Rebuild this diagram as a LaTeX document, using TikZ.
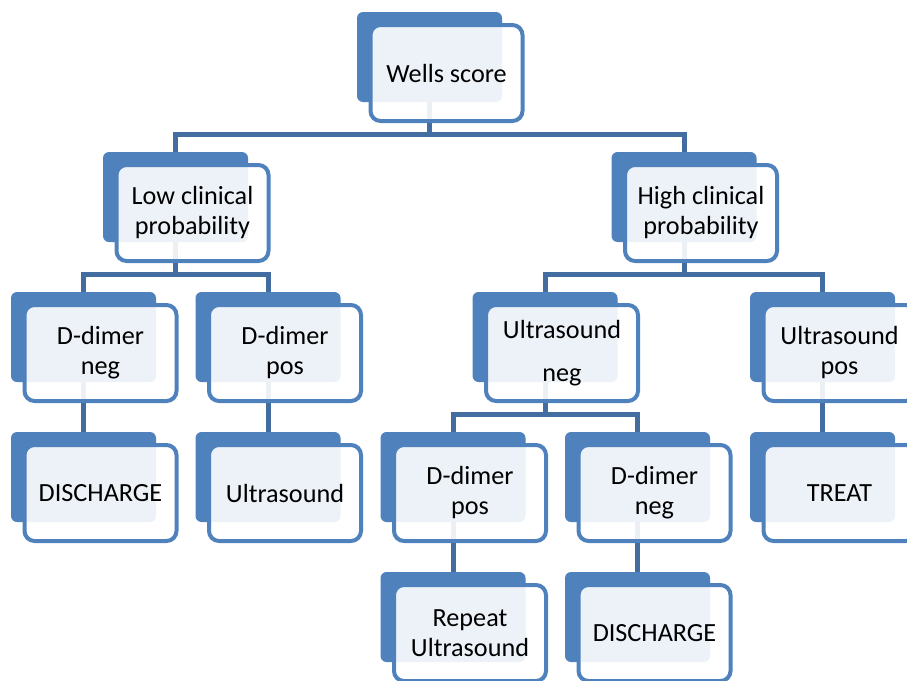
\documentclass[tikz,border=0pt]{standalone}
\usepackage{fontspec}
\setmainfont{Carlito}
\usetikzlibrary{positioning, calc}
\definecolor{accent}{RGB}{79,129,189}
\definecolor{linkblue}{RGB}{67,108,160}
\tikzset{%
  back/.style={fill=accent, rounded corners=6pt, minimum width=145pt, minimum height=90pt, inner sep=0pt},
  front/.style={draw=accent, line width=4pt, fill=white, fill opacity=0.9, text opacity=1, rounded corners=10pt,
    minimum width=152pt, minimum height=96pt, inner sep=2pt, align=center, font=\fontsize{26.2}{30}\selectfont},
  link/.style={draw=linkblue, line width=5pt}
}
\begin{document}
\begin{tikzpicture}[x=1pt, y=-1pt]
\useasboundingbox (0,0) rectangle (907,680);

% back boxes
\node[back] (wells) at (429.5,57) {};
\node[back] (low) at (175.5,197) {};
\node[back] (high) at (684,197) {};
\node[back] (ddneg) at (83.5,337) {};
\node[back] (ddpos) at (268,337) {};
\node[back] (usneg) at (545,337) {};
\node[back] (uspos) at (822.5,337) {};
\node[back] (dis) at (83.5,477) {};
\node[back] (us) at (268,477) {};
\node[back] (ddposb) at (453,477) {};
\node[back] (ddnegb) at (637.5,477) {};
\node[back] (treat) at (822.5,477) {};
\node[back] (rep) at (453,617) {};
\node[back] (disb) at (637.5,617) {};

% connectors
\draw[link] (wells.south) |- ([yshift=17pt]low.north) -- (low.north);
\draw[link] (wells.south) |- ([yshift=17pt]high.north) -- (high.north);
\draw[link] (low.south) |- ([yshift=17pt]ddneg.north) -- (ddneg.north);
\draw[link] (low.south) |- ([yshift=17pt]ddpos.north) -- (ddpos.north);
\draw[link] (high.south) |- ([yshift=17pt]usneg.north) -- (usneg.north);
\draw[link] (high.south) |- ([yshift=17pt]uspos.north) -- (uspos.north);
\draw[link] (ddneg.south) -- (dis.north);
\draw[link] (ddpos.south) -- (us.north);
\draw[link] (usneg.south) |- ([yshift=17pt]ddposb.north) -- (ddposb.north);
\draw[link] (usneg.south) |- ([yshift=17pt]ddnegb.north) -- (ddnegb.north);
\draw[link] (uspos.south) -- (treat.north);
\draw[link] (ddposb.south) -- (rep.north);
\draw[link] (ddnegb.south) -- (disb.north);

% front boxes
\node[front] (wellsf) at ([shift={(17,16)}]wells) {Wells score};
\node[front] (lowf) at ([shift={(17,16)}]low) {Low clinical\\probability};
\node[front] (highf) at ([shift={(17,16)}]high) {High clinical\\probability};
\node[front] (ddnegf) at ([shift={(17,16)}]ddneg) {D-dimer\\neg};
\node[front] (ddposf) at ([shift={(17,16)}]ddpos) {D-dimer\\pos};
\node[front] (usnegf) at ([shift={(17,16)}]usneg) {Ultrasound\\[13pt]neg};
\node[front] (usposf) at ([shift={(17,16)}]uspos) {Ultrasound\\pos};
\node[front] (disf) at ([shift={(17,16)}]dis) {DISCHARGE};
\node[front] (usf) at ([shift={(17,16)}]us) {Ultrasound};
\node[front] (ddposbf) at ([shift={(17,16)}]ddposb) {D-dimer\\pos};
\node[front] (ddnegbf) at ([shift={(17,16)}]ddnegb) {D-dimer\\neg};
\node[front] (treatf) at ([shift={(17,16)}]treat) {TREAT};
\node[front] (repf) at ([shift={(17,16)}]rep) {Repeat\\Ultrasound};
\node[front] (disbf) at ([shift={(17,16)}]disb) {DISCHARGE};

\end{tikzpicture}
\end{document}
